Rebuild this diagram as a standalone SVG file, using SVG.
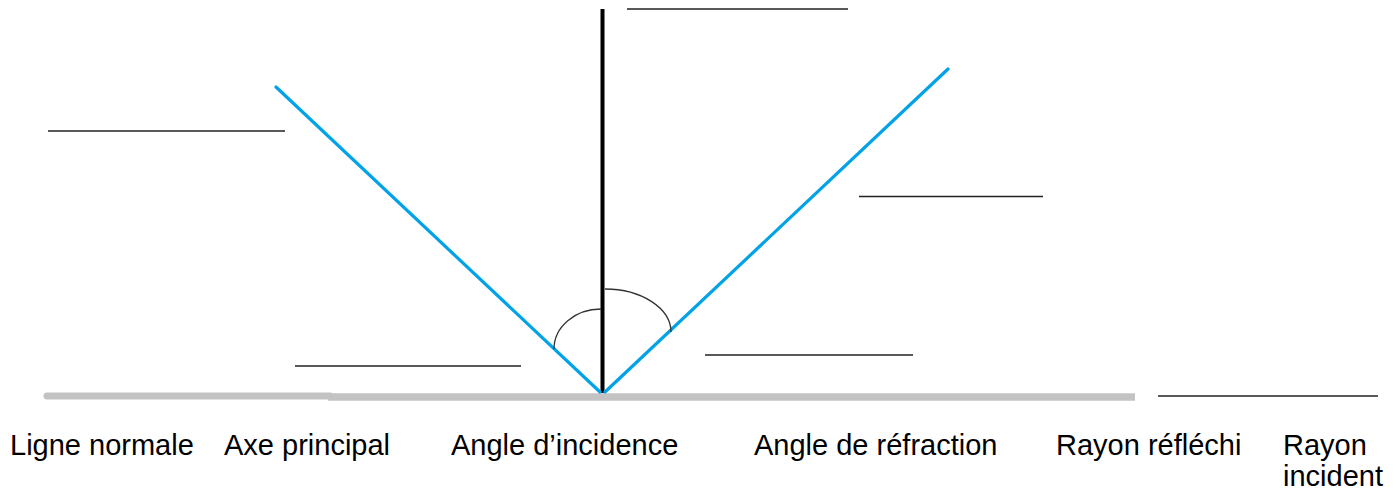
<svg xmlns="http://www.w3.org/2000/svg" width="1398" height="494" viewBox="0 0 1398 494">
<style>
.lbl{font-family:"Liberation Sans",Arial,sans-serif;font-size:29px;fill:#000}
.blank{stroke:#222;stroke-width:1.5;fill:none}
.ray{stroke:#00A2E8;stroke-width:3.2;fill:none;stroke-linecap:round}
.arc{stroke:#333;stroke-width:1.3;fill:none}
</style>
<rect width="1398" height="494" fill="#fff"/>
<g id="surface">
<line x1="47" y1="396" x2="330" y2="396" stroke="#C3C3C3" stroke-width="7" stroke-linecap="round"/>
<line x1="328" y1="397" x2="1135" y2="397" stroke="#C3C3C3" stroke-width="7.5"/>
</g>
<g id="normal">
<line x1="602.5" y1="9" x2="602.5" y2="393" stroke="#000" stroke-width="4"/>
</g>
<g id="connectors">
<line class="ray" x1="276" y1="87" x2="600" y2="392"/>
<line class="ray" x1="605" y1="392" x2="948" y2="69"/>
<path class="arc" d="M554,349 A47,40 0 0 1 601,309"/>
<path class="arc" d="M605,289 A66,43 0 0 1 671,332"/>
</g>
<g id="blanks">
<line class="blank" x1="48" y1="131" x2="285" y2="131"/>
<line class="blank" x1="627" y1="9" x2="848" y2="9"/>
<line class="blank" x1="859" y1="196.5" x2="1043" y2="196.5"/>
<line class="blank" x1="295" y1="366" x2="521" y2="366"/>
<line class="blank" x1="705" y1="355" x2="913" y2="355"/>
<line class="blank" x1="1158" y1="396" x2="1378" y2="396"/>
</g>
<g id="labels">
<text class="lbl" x="10" y="455">Ligne normale</text>
<text class="lbl" x="224" y="455">Axe principal</text>
<text class="lbl" x="451" y="455">Angle d’incidence</text>
<text class="lbl" x="754" y="455">Angle de réfraction</text>
<text class="lbl" x="1056" y="455">Rayon réfléchi</text>
<text class="lbl" x="1283" y="455">Rayon</text>
<text class="lbl" x="1283" y="486">incident</text>
</g>
</svg>
